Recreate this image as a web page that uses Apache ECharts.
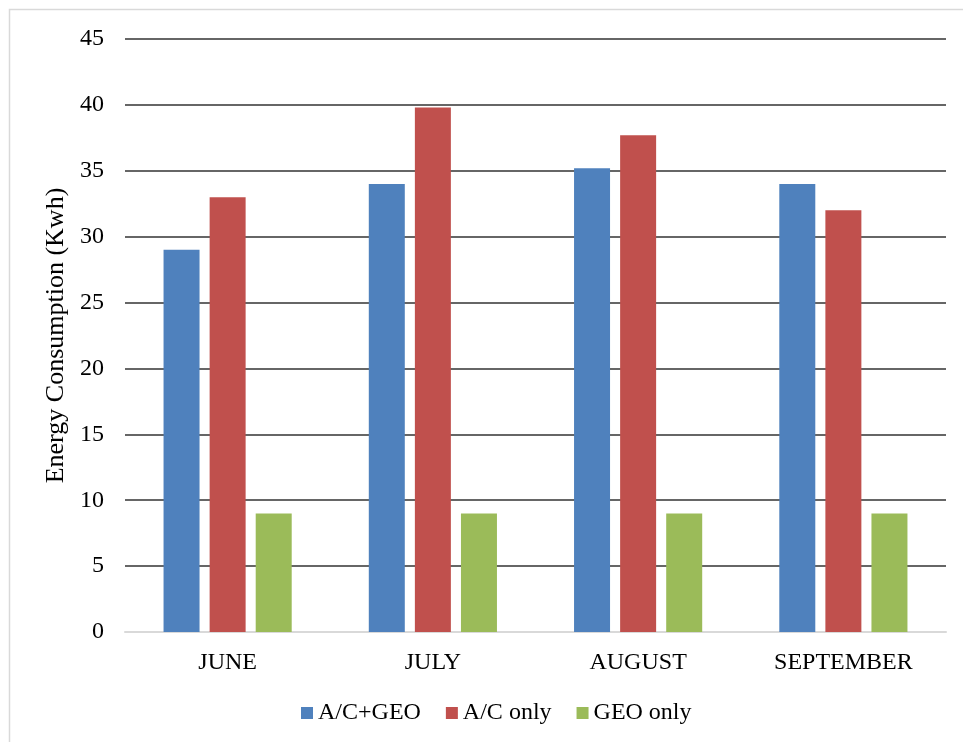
<!DOCTYPE html>
<html>
<head>
<meta charset="utf-8">
<title>Energy Consumption (Kwh)</title>
<script src="https://cdn.jsdelivr.net/npm/echarts@6/dist/echarts.min.js"></script>
<style>
  html, body { margin: 0; padding: 0; background: #ffffff; }
  #chart { width: 963px; height: 742px; }
</style>
</head>
<body>
<div id="chart"></div>
<script>
// Monthly energy use per operating mode
const months = ['JUNE', 'JULY', 'AUGUST', 'SEPTEMBER'];
const acGeo = [29, 34, 35.2, 34];
const acOnly = [33, 39.8, 37.7, 32];
const geoOnly = [9, 9, 9, 9];
const seriesNames = ['A/C+GEO', 'A/C only', 'GEO only'];
const seriesColors = ['#4f81bd', '#c0504d', '#9bbb59'];

const FONT = '"Liberation Serif", "Times New Roman", serif';

const chart = echarts.init(document.getElementById('chart'), null, { renderer: 'canvas' });

const makeSeries = (name, data, color) => ({
  name: name,
  type: 'bar',
  data: data,
  barWidth: 36,
  barGap: '28%',
  itemStyle: { color: color },
  emphasis: { disabled: true }
});

chart.setOption({
  animation: false,
  backgroundColor: '#ffffff',
  graphic: [{
    type: 'rect',
    shape: { x: 9.5, y: 9.5, width: 1200, height: 1200 },
    style: { fill: 'none', stroke: '#d9d9d9', lineWidth: 1.5 },
    silent: true,
    z: -10
  }],
  grid: { left: 125, right: 17, top: 39, bottom: 110, containLabel: false },
  legend: {
    data: seriesNames,
    left: 296,
    top: 696,
    itemWidth: 12,
    itemHeight: 12,
    itemGap: 25,
    icon: 'rect',
    textStyle: { fontFamily: FONT, fontSize: 24, color: '#000000' }
  },
  xAxis: {
    type: 'category',
    data: months,
    axisLine: { show: true, lineStyle: { color: '#d9d9d9', width: 2 } },
    axisTick: { show: false },
    axisLabel: { fontFamily: FONT, fontSize: 24, color: '#000000', margin: 19 },
    splitLine: { show: false }
  },
  yAxis: {
    type: 'value',
    min: 0,
    max: 45,
    interval: 5,
    name: 'Energy Consumption (Kwh)',
    nameLocation: 'middle',
    nameGap: 48,
    nameRotate: 90,
    nameTextStyle: { fontFamily: FONT, fontSize: 26, color: '#000000' },
    axisLine: { show: false },
    axisTick: { show: false },
    axisLabel: { fontFamily: FONT, fontSize: 24, color: '#000000', margin: 21 },
    splitLine: { show: true, lineStyle: { color: '#333333', width: 1.5 } }
  },
  series: [
    makeSeries(seriesNames[0], acGeo, seriesColors[0]),
    makeSeries(seriesNames[1], acOnly, seriesColors[1]),
    makeSeries(seriesNames[2], geoOnly, seriesColors[2])
  ]
});
</script>
</body>
</html>
